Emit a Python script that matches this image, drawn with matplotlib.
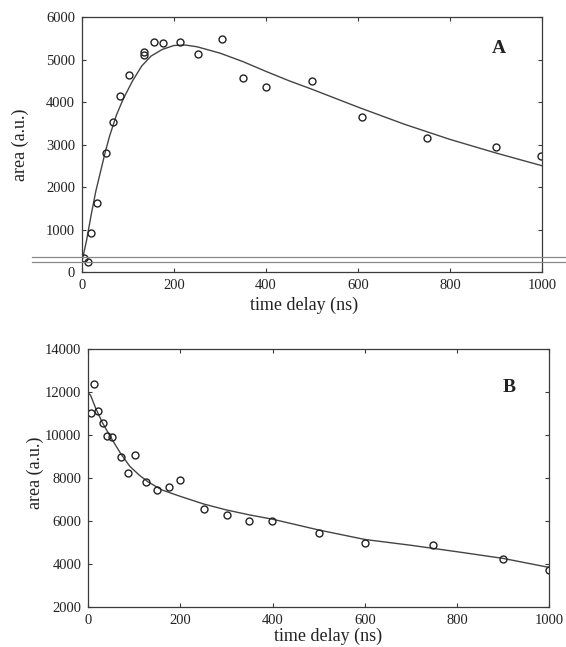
import matplotlib
matplotlib.use("Agg")
import matplotlib.pyplot as plt
from matplotlib.lines import Line2D

# ---- Panel A data ----
a_t = [5, 12, 20, 32, 52, 68, 83, 102, 135, 135, 157, 177, 214, 253, 305, 351, 401, 501, 609, 751, 901, 997]
a_area = [340, 240, 910, 1630, 2810, 3540, 4140, 4630, 5180, 5100, 5410, 5380, 5410, 5140, 5480, 4570, 4360, 4490, 3640, 3150, 2930, 2720]
a_fit_t = [0, 10, 20, 30, 40, 50, 60, 75, 90, 110, 130, 150, 175, 200, 225, 250, 300, 350, 400, 450, 500, 600, 700, 800, 900, 1000]
a_fit = [250, 750, 1350, 1900, 2350, 2800, 3200, 3700, 4080, 4500, 4850, 5080, 5240, 5330, 5340, 5300, 5150, 4950, 4720, 4500, 4300, 3880, 3480, 3120, 2800, 2500]

# ---- Panel B data ----
b_t = [5, 13, 20, 31, 41, 51, 71, 87, 101, 125, 150, 176, 200, 251, 300, 349, 399, 500, 600, 748, 900, 1000]
b_area = [11040, 12390, 11130, 10570, 9970, 9920, 8980, 8250, 9090, 7820, 7460, 7590, 7900, 6570, 6290, 5990, 5990, 5460, 4990, 4890, 4240, 3730]
b_fit_t = [0, 5, 15, 30, 50, 70, 90, 110, 130, 160, 200, 250, 300, 350, 400, 450, 500, 600, 700, 800, 900, 1000]
b_fit = [11950, 11850, 11300, 10600, 9850, 9150, 8550, 8150, 7820, 7450, 7150, 6800, 6520, 6290, 6090, 5840, 5590, 5150, 4880, 4580, 4270, 3850]

a_yticks = [0, 1000, 2000, 3000, 4000, 5000, 6000]
b_yticks = [2000, 4000, 6000, 8000, 10000, 12000, 14000]
x_ticks = [0, 200, 400, 600, 800, 1000]

plt.rcParams['font.family'] = ['Liberation Serif', 'DejaVu Serif']
fig = plt.figure(figsize=(5.66, 6.47), dpi=100)

edge = '#3a3a3a'

def style(ax, xl, yl):
    for s in ax.spines.values():
        s.set_color(edge)
        s.set_linewidth(0.9)
    ax.tick_params(direction='in', top=True, right=True, length=3, width=0.8,
                   color=edge, labelsize=10.5, pad=5, labelcolor='#222222')
    ax.set_xlabel('time delay (ns)', fontsize=13, color='#222222')
    ax.set_ylabel('area (a.u.)', fontsize=13, color='#222222')
    ax.xaxis.set_label_coords(*xl)
    ax.yaxis.set_label_coords(*yl)
    ax.xaxis.label.set_va('center')
    ax.yaxis.label.set_va('center')

axA = fig.add_axes([0.1449, 0.5796, 0.8127, 0.3941])
axA.plot(a_fit_t, a_fit, color='#444444', lw=1.0)
axA.plot(a_t, a_area, 'o', mfc='none', mec='#222222', ms=5, mew=1.0)
axA.set_xlim(0, 1000)
axA.set_ylim(0, 6000)
axA.set_xticks(x_ticks)
axA.set_yticks(a_yticks)
style(axA, (0.483, -0.129), (-0.135, 0.5))
axA.text(906, 5250, 'A', fontsize=14, fontweight='bold', ha='center', va='center', color='#222222')

axB = fig.add_axes([0.156, 0.0614, 0.8145, 0.3992])
axB.plot(b_fit_t, b_fit, color='#444444', lw=1.0)
axB.plot(b_t, b_area, 'o', mfc='none', mec='#222222', ms=5, mew=1.0)
axB.set_xlim(0, 1000)
axB.set_ylim(2000, 14000)
axB.set_xticks(x_ticks)
axB.set_yticks(b_yticks)
style(axB, (0.521, -0.111), (-0.1156, 0.52))
axB.text(913, 12220, 'B', fontsize=14, fontweight='bold', ha='center', va='center', color='#222222')

# scan artifact: double horizontal lines across the figure
H = 647.0
for yp in (256.5, 261.5):
    fig.add_artist(Line2D([32 / 566.0, 1.0], [1 - yp / H, 1 - yp / H],
                          transform=fig.transFigure, color='#888888', lw=0.9))

fig.savefig('out.png', dpi=100)
